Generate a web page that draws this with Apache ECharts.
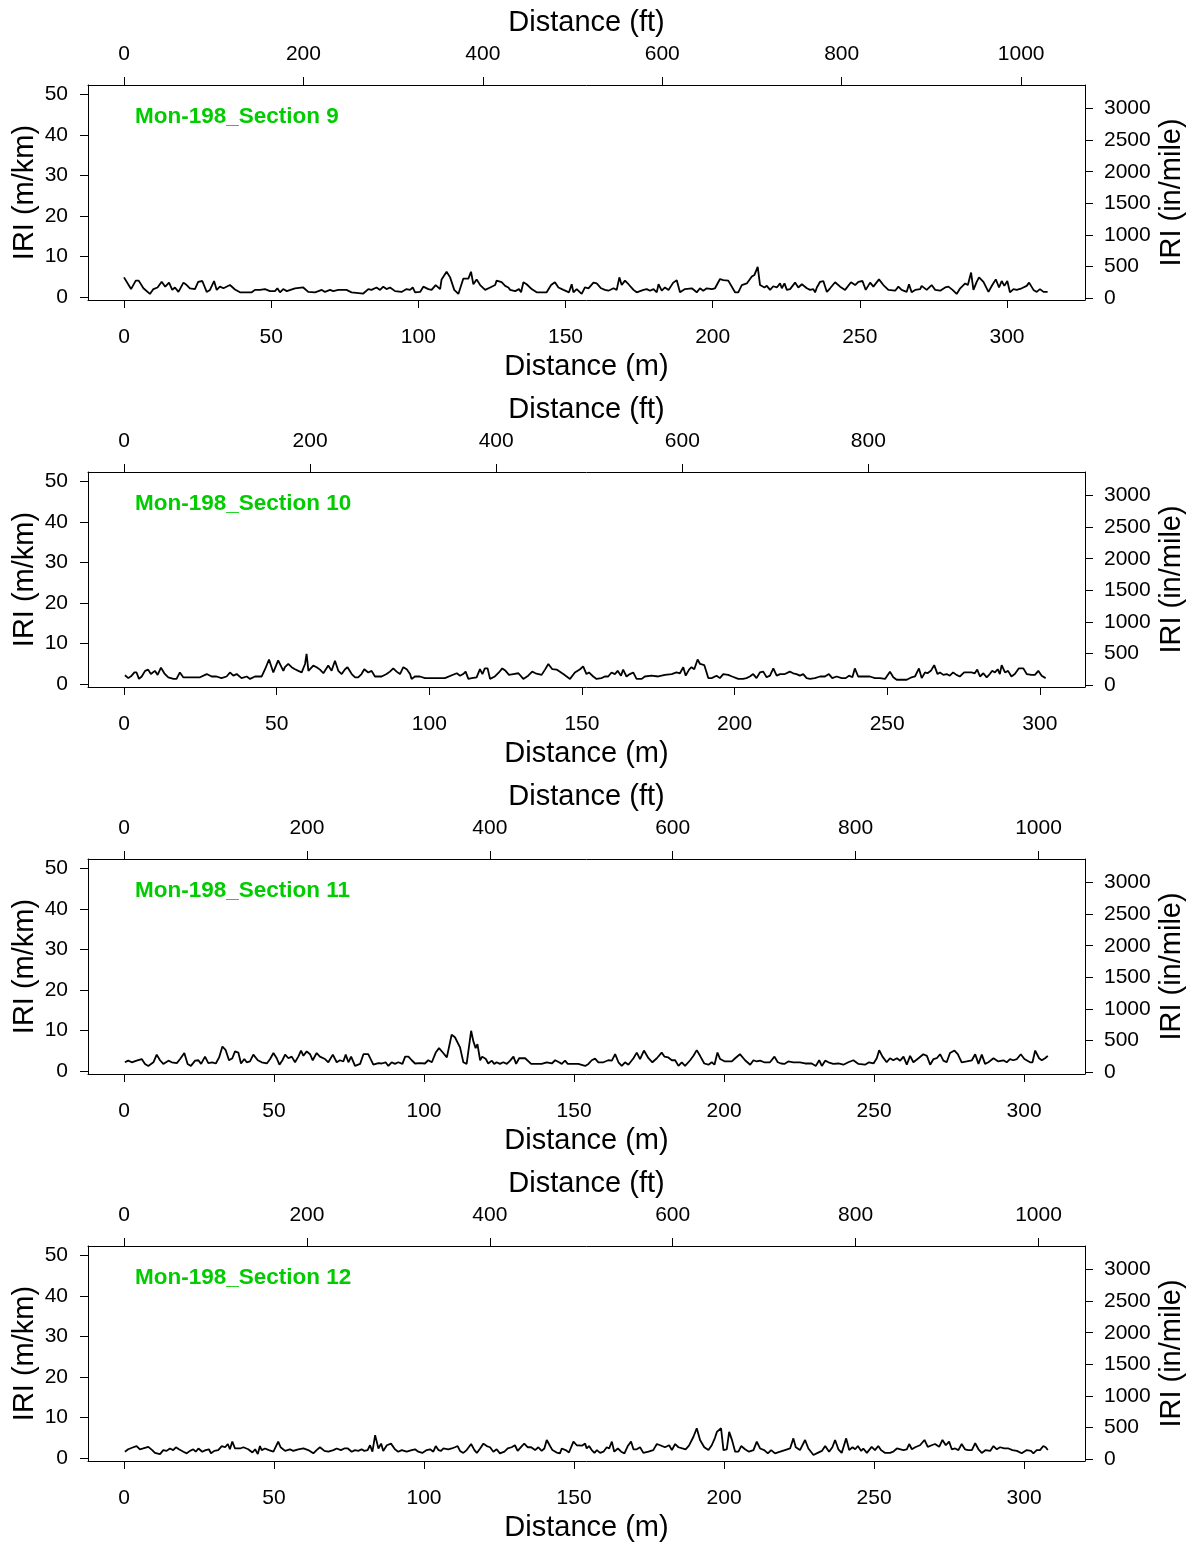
<!DOCTYPE html>
<html><head><meta charset="utf-8">
<script src="https://cdn.jsdelivr.net/npm/echarts@6/dist/echarts.min.js"></script>
<style>html,body{margin:0;padding:0;background:#fff}#c{width:1196px;height:1542px}</style>
</head><body><div id="c"></div>
<script>
// ---------- DATA ----------
const sectionNames = ['Mon-198_Section 9', 'Mon-198_Section 10', 'Mon-198_Section 11', 'Mon-198_Section 12'];

const s9Dist = [0,2.4,4,5,6.6,8.8,10,11.4,12.8,14,15.3,16.4,17.3,18.5,20.2,21.3,22.4,24.1,25.2,26.6,28.1,29.2,30.6,31.5,32.6,33.8,36,37.7,39.4,43.4,44.5,46.2,47.9,49.6,51.3,52.1,53,54.1,55.3,58.1,60.9,62.6,64.9,67.2,68.3,70,71.1,72.8,75.6,77.3,81.3,83,84.1,85.8,87,88.1,89.2,90.4,92.1,94.3,96,97.2,98.1,98.9,100.6,101.7,103.4,104.5,105.9,107.4,107.9,109.6,110.8,112.2,
113.6,115.3,117,117.9,118.7,119.8,121,122.7,124.4,126.1,126.6,128.3,129.5,130.6,131.2,132.9,134.2,134.9,135.7,136.8,138.5,140.2,143.6,145.1,146.4,147.6,149.3,151.2,152.1,152.7,153.8,155.5,156.6,157.8,159.5,160.6,162.1,163.4,164.6,166.3,167.4,168.3,169.1,170.2,171.4,173.1,174.2,176.5,177.6,178.7,179.9,181,181.6,182.7,183.8,185,186.6,187.8,188.9,190.6,192.9,194.6,195.7,196.8,198,199.7,200.8,202.5,203.6,205.3,207.6,208.7,209.9,211.6,213.3,214.2,215.3,216.1,217.6,218.4,219.5,220.6,221.8,222.9,223.5,224.4,
225.2,226.3,228,229.1,230.3,232,233.1,234.2,234.8,235.4,236.5,237.6,238.8,239.9,241.6,243.3,245,247,248.4,249.5,250.9,252,253.5,254.6,256.5,258,259.7,262,263.1,264.2,265.9,266.7,267.6,268.8,270.5,271,272.7,274.4,275.6,277.3,279,280.1,281.5,282.9,284.1,284.6,285.8,286.7,287.8,288.6,289.7,290.5,292,293.7,295,296.2,297.3,298.2,299.1,300.1,301,302.2,303.3,305,306.7,307.5,309,310.1,311.2,312.4,313.8];
const s9Iri = [4.8,1.9,4.0,4.0,2.1,0.7,1.9,2.3,3.7,2.5,3.5,1.7,2.3,1.2,3.5,2.9,2.1,1.9,3.7,3.9,1.2,1.7,3.9,1.7,2.5,2.1,2.9,1.8,1.1,1.1,1.7,1.7,1.9,1.4,1.4,2.1,1.1,1.9,1.4,2.1,2.3,1.2,1.1,1.7,1.2,1.7,1.4,1.7,1.7,1.1,0.8,1.9,1.7,2.3,1.7,2.5,1.9,2.3,1.4,1.2,1.9,1.7,2.3,1.1,1.2,2.5,1.9,1.7,2.9,1.9,4.3,6.2,4.8,1.7,
0.7,4.5,4.5,6.2,3.1,4.3,2.9,1.7,2.3,2.9,4.0,3.6,2.7,2.3,1.7,1.4,1.9,1.1,3.6,3.1,1.9,1.1,1.1,2.9,3.6,2.3,1.7,1.1,3.1,1.1,1.9,0.7,2.3,2.1,3.5,3.3,2.1,1.7,1.5,2.1,1.7,4.8,2.9,4.0,3.1,1.7,1.1,1.7,1.9,1.5,1.9,1.1,3.1,1.5,2.3,1.7,3.5,4.1,1.1,1.9,2.1,1.1,2.1,1.5,2.1,1.9,2.1,4.4,4.1,4.0,1.1,1.1,2.9,3.3,5.0,5.4,7.4,2.9,2.3,2.7,1.7,2.6,2.3,3.3,2.1,3.3,
1.7,1.9,3.5,2.3,3.1,2.1,1.7,1.9,1.1,2.3,3.7,3.9,1.2,2.1,3.6,2.5,1.7,3.6,2.9,3.7,3.9,1.7,3.5,2.5,4.3,2.9,1.7,1.5,2.5,1.7,1.2,3.1,1.1,1.7,1.9,2.7,1.7,2.9,1.7,1.5,2.3,2.5,1.7,0.7,2.1,1.7,3.3,2.9,6.0,1.7,3.7,4.8,3.7,1.2,2.9,4.3,2.3,3.9,2.7,3.9,1.1,1.9,1.7,2.1,2.7,3.5,1.7,1.2,1.9,1.2,1.2];

const s10Dist = [0.3,1.4,2.5,3.4,4.1,4.9,5.8,6.9,7.9,8.8,10.1,11,12.1,13.2,14.5,16.2,17.2,18.3,19.4,21.1,24.9,27.1,28.7,30.3,31.9,33.6,34.7,35.8,36.9,38.5,40.2,41.3,42.9,45.1,46.2,47.5,48.9,50.5,52.2,52.7,53.8,54.9,56,57.1,58.2,59.3,59.8,60.4,60.9,62,63.1,64.2,65.3,66.9,68,69.1,70.2,71.3,72.4,73.2,74.6,75.7,76.7,77.8,78.7,80,81.1,82.2,84.4,86,87.1,88.2,89.3,90.4,91.5,92.6,93.7,94.2,95.3,96.9,98.6,101.8,105.1,
109,110.1,111.1,111.9,112.8,113.9,115.5,116.6,117.4,118.2,119.1,119.9,121.5,122.8,123.9,125,126.1,127.5,129.2,130.8,132.4,133.7,134.8,136.8,137.9,139,140.3,141.7,143.9,146.1,147.7,149.4,150.4,151.5,152.3,153.7,154.8,156.4,157.5,158.6,159.7,160.8,161.7,162.8,163.5,164.6,165.7,166.8,167.9,169.6,170.6,172.8,175,177.2,179.4,181,182.1,183.2,184,185.1,185.9,186.8,187.9,188.7,189.2,190.1,191.4,192.5,194.1,195.2,196.3,197.9,199.2,201.2,202.8,203.9,205,206.1,207.2,208.3,209.4,210.5,211.6,212.7,213.8,214.9,216.5,
218.1,219.2,220.3,221.4,222.5,223.6,224.7,226.3,228,229.6,230.9,232,233.4,235.1,236.4,237.5,238.6,239.4,240.5,242.2,244.3,246,247.6,249.3,250.9,252,253.1,256.4,258,259.1,260.4,261.3,262.4,263.2,264.3,265.4,266.5,267.3,268.4,269.5,270.5,271.6,272.7,273.8,275.2,276.3,277.6,278.7,279.5,280.4,281.5,282.6,283.6,284.4,285.3,286.2,286.9,287.5,288.6,289.6,290.7,291.8,293.1,294.6,295.7,297.3,298.4,299.5,300.6,301.9];
const s10Iri = [2.1,1.4,2.0,2.8,2.8,1.2,1.8,3.2,3.5,2.4,3.2,2.2,4.0,2.6,1.6,1.2,1.2,2.8,1.6,1.6,1.6,2.4,1.8,1.8,1.4,1.8,2.8,2.0,2.4,1.4,1.8,1.2,1.8,1.8,3.6,6.0,2.8,5.8,3.2,4.1,4.9,4.1,3.6,3.2,2.8,4.9,7.4,3.2,3.2,4.5,4.1,3.5,2.6,4.5,3.2,5.7,3.2,2.4,3.6,4.1,2.4,1.6,1.6,2.4,3.6,2.8,3.2,1.8,1.8,2.4,3.0,3.8,3.0,2.4,4.1,3.6,2.4,1.2,1.8,1.8,1.4,1.4,1.4,
2.6,2.0,2.4,3.0,1.2,1.4,1.6,3.6,2.4,3.8,3.8,1.2,1.8,2.8,3.8,3.2,2.2,2.4,2.6,1.2,2.0,3.0,2.6,2.2,3.5,4.9,3.6,3.5,2.4,1.2,2.8,3.6,4.3,2.4,2.8,1.8,1.2,1.4,1.8,1.8,2.8,2.4,3.2,2.0,3.5,1.8,2.4,2.8,1.2,1.2,1.8,2.0,1.8,2.2,2.4,2.8,2.6,4.1,2.0,3.5,4.1,3.6,6.0,4.9,5.3,4.6,1.4,1.4,2.0,1.4,2.4,2.2,1.8,1.2,1.2,1.4,1.8,2.4,1.4,2.8,3.0,1.6,2.0,3.8,2.0,2.4,2.4,
3.0,2.6,2.4,2.0,2.4,1.4,1.2,1.4,1.8,1.8,2.4,1.4,1.8,1.4,1.4,2.0,1.6,3.8,1.8,1.8,1.8,1.4,1.4,1.2,3.0,1.6,1.0,1.0,1.6,1.8,3.8,1.4,2.8,2.6,3.2,4.6,2.4,2.8,2.2,2.4,2.0,2.8,2.2,1.8,2.8,2.8,2.8,2.6,3.5,1.8,2.6,1.6,2.4,3.2,2.8,3.6,2.4,4.6,2.8,3.2,1.8,2.4,3.8,3.8,2.4,2.2,2.2,3.2,2.0,1.4];

const s11Dist = [0.3,1.4,2.6,4.2,5.9,7,8.1,9.8,10.9,12,13.1,14.8,15.9,17.6,18.7,20.1,21.2,22.3,23.7,24.8,25.7,27,28.1,29.4,30.6,31.7,32.8,33.9,35,36.1,37,38.1,39,40.1,40.9,42,43.1,44.6,45.9,47.6,48.7,49.8,50.9,51.8,52.8,53.7,54.8,55.9,57,58.1,59,59.8,60.9,62,62.9,64.2,65.3,67,68.1,69.6,70.9,72,73.1,73.9,74.8,75.7,77,78.7,79.8,81.4,83.1,84.8,85.9,87.2,88.1,89.2,90.3,91.4,92.8,93.7,94.8,95.9,97,98.7,100.3,101.4,102.6,103.9,105,106.4,107.6,109.2,110.3,
110.9,112,113.1,114.2,114.8,115.7,116.4,117.2,117.8,118.7,119.4,120.6,121.4,122.6,123.4,124.2,125.3,126.4,127.6,128.7,129.8,130.7,131.7,133.7,135.7,139.2,140.9,142.6,143.7,145,145.9,147,147.9,151.4,153.7,154.8,155.9,157,158.1,159.8,161.4,162.6,163.7,164.8,165.9,167,168.1,169.8,170.9,172,173.3,174.8,176.1,177.6,179.2,180.1,181.4,182.6,183.7,184.8,185.9,187,188.7,189.8,190.9,192,193.4,194.8,195.9,196.8,197.8,198.7,200.3,202.6,203.7,205.3,207,208.7,209.8,210.9,212,213.4,215.3,216.8,217.9,219,220.1,
221.4,223.1,225.3,227,229.2,230.6,231.7,232.6,233.7,234.8,236.4,238.1,239.8,241.4,243.1,244.8,247,248.3,249.8,250.9,251.7,252.8,254.2,255.3,256.4,257.6,258.7,259.8,260.9,262,263.1,264.8,266.4,267.6,268.7,269.8,270.9,272,273.1,274.2,275.3,276.8,277.9,279.2,280.9,282.6,283.7,284.8,285.9,287,288.1,289.8,291.4,293.1,294.2,295.3,296.4,297.6,298.9,300.1,302,302.8,303.7,305,305.9,307,307.9];
const s11Iri = [2.1,2.5,2.1,2.5,2.9,1.7,1.2,2.1,4.0,2.6,1.7,2.5,2.1,1.9,2.9,4.4,1.7,1.2,2.5,2.6,1.7,3.5,1.9,2.1,1.8,3.3,6.0,5.1,2.6,3.1,4.8,4.5,1.8,2.9,2.1,2.3,4.0,2.6,2.1,1.8,2.9,4.4,3.1,1.5,2.6,4.0,3.1,3.5,2.1,3.5,5.0,3.7,4.8,4.1,2.6,4.4,3.5,2.9,2.1,4.0,2.1,2.6,2.3,4.0,2.1,3.5,1.2,1.7,4.1,4.1,1.5,1.9,1.8,2.1,1.2,2.1,1.7,2.1,1.7,3.5,3.5,2.6,1.8,1.9,1.8,2.6,2.1,4.5,5.6,4.4,3.3,8.9,8.3,
7.9,5.8,2.1,1.7,2.1,9.9,7.4,5.6,6.6,2.6,3.5,2.9,1.8,2.5,1.7,2.1,1.7,2.1,1.7,2.5,3.5,1.7,3.1,3.1,1.7,1.7,2.1,1.8,2.6,2.1,1.7,2.5,1.7,1.7,1.2,1.7,2.6,3.0,2.1,2.1,2.6,2.5,4.1,2.1,1.2,2.1,1.5,3.1,4.5,2.9,5.0,3.1,2.1,3.1,4.5,3.5,3.3,2.6,2.6,1.2,2.1,1.2,2.6,3.7,5.1,3.7,1.8,1.5,2.1,1.5,4.5,2.9,2.3,2.3,3.1,4.1,2.6,1.5,2.6,2.3,2.5,2.1,2.1,3.5,2.1,1.8,1.7,
2.3,2.1,2.1,1.8,1.8,1.2,2.6,1.2,2.5,2.1,1.7,1.8,1.5,2.1,2.6,1.7,1.5,2.1,1.8,3.1,5.1,3.5,2.1,3.1,2.6,3.1,2.5,3.5,1.5,3.7,2.1,3.1,4.1,3.7,1.5,2.9,3.1,4.1,2.5,2.1,4.4,5.0,4.1,2.1,2.3,2.6,4.1,1.7,4.0,1.7,2.1,3.1,2.3,2.6,2.1,2.9,2.6,2.9,4.1,2.9,2.1,2.1,5.0,3.1,2.6,3.1,3.7];

const s12Dist = [0.3,1.4,3.1,4.2,5.3,6.4,8.1,9.4,10.3,12,13.1,14.2,15.3,16.4,17.3,18.3,19.8,20.9,22,23.1,23.9,24.8,26.1,27.2,28.3,29,30.1,31.4,32.6,33.7,34.6,35.3,36.1,37,38.7,39.8,41.4,42.8,43.7,44.6,45.3,45.9,47,48.3,49.8,51.4,52.2,53.7,55.3,56.4,58.1,59.8,61.4,63.1,64.2,65.3,66.8,68.1,69.8,70.9,72.3,73.4,74.6,75.9,77,78.1,79.2,80.1,81.2,82,82.8,83.7,84.8,85.7,86.4,87.6,89,90.3,91.4,92.6,94.2,95.9,97,98.1,99.4,100.9,102,103.1,103.9,104.8,105.7,106.4,108.1,109.2,110.3,
111.2,112,113.1,114.2,115.7,116.8,117.6,118.7,119.8,120.9,122,123.1,124.2,125.3,126.8,127.9,129.2,130.3,131.2,132.6,133.4,134.6,135.7,137,138.1,139.2,140.1,140.9,142,142.8,144.2,145.3,145.9,147.2,148.3,149.8,150.9,152.6,153.7,154.2,155,155.9,156.8,157.6,158.7,159.8,160.9,161.7,162.6,163.4,164.6,165.7,166.8,167.9,169,169.8,170.9,172,173.1,174.8,176.4,177.6,178.7,180.3,181.7,182.6,183.7,184.8,186.1,187.2,188.3,189.8,190.9,192,193.4,194.8,195.9,197,197.6,198.1,199,199.8,200.9,201.7,202.6,203.7,204.8,205.7,207,208.3,209.8,210.9,212,213.4,214.6,215.7,217,218.7,220.3,
222,223.1,223.9,225.3,227,228.1,229.8,231.2,232.6,233.7,235,236.1,237,238.1,239.2,240.7,241.7,242.8,243.7,244.6,245.7,246.4,247.6,249.2,250.3,251.4,252.3,253.7,255.3,256.4,257.6,259.8,260.9,261.7,262.6,263.7,265.3,266.8,267.9,269.2,270.3,271.7,272.8,273.9,275,275.9,277,278.1,279.2,280.3,281.4,282.6,283.7,284.8,285.9,287.2,288.7,289.8,290.9,292,293.4,294.8,296.1,297.6,299.2,300.9,302.3,303.1,304.2,305.3,306.4,307.2,307.9];
const s12Iri = [1.5,2.1,2.6,2.9,2.1,2.3,2.7,1.9,1.2,0.9,1.9,1.7,2.3,1.9,2.6,2.1,1.5,1.1,1.7,2.1,1.5,2.3,1.5,1.9,2.1,1.1,1.7,1.9,2.9,2.6,3.4,2.1,4.0,2.3,2.3,2.6,2.1,1.3,2.1,0.9,2.9,1.9,2.3,1.9,1.5,4.0,2.6,1.7,2.1,1.7,2.1,2.3,1.9,1.1,1.9,2.6,1.7,1.5,1.9,2.3,1.9,2.3,2.3,1.5,1.9,1.7,2.1,1.7,1.9,3.1,1.5,5.6,2.3,3.5,1.7,3.1,3.5,2.1,1.5,1.9,1.5,1.9,2.1,1.5,1.2,1.9,2.1,1.5,2.9,1.9,1.7,2.3,2.1,2.3,2.6,
2.9,1.7,1.2,1.9,3.4,1.9,1.2,2.3,3.5,2.9,2.6,1.5,2.1,1.1,1.5,2.3,2.6,3.1,1.7,2.9,3.5,2.6,2.6,1.9,2.6,1.7,2.3,4.4,2.9,1.9,1.3,1.1,2.3,1.9,1.3,4.0,3.1,3.0,3.5,2.3,2.9,1.9,1.2,1.9,1.2,1.5,2.6,2.3,4.0,1.5,2.3,1.5,1.1,2.9,4.0,2.1,2.1,2.6,1.2,1.5,1.9,3.4,3.1,2.6,3.1,1.9,3.4,2.6,2.3,2.1,3.0,5.2,7.3,4.4,2.6,1.9,3.1,5.0,6.4,6.1,7.3,1.9,2.1,6.4,4.5,1.5,1.5,2.9,2.1,1.5,1.9,4.0,2.3,1.9,1.1,1.9,1.1,1.5,1.9,
2.3,4.8,2.6,1.9,4.4,2.3,0.7,1.2,1.7,2.9,1.5,2.6,4.4,2.1,1.2,4.8,1.9,2.6,2.1,2.9,1.7,2.3,1.2,2.7,1.9,2.9,1.9,1.2,1.2,1.5,2.3,1.9,2.1,3.4,2.1,2.6,3.1,4.4,2.7,3.1,3.4,2.7,4.4,3.1,4.0,2.1,2.3,1.9,3.4,2.1,1.9,1.9,3.6,2.1,1.2,1.9,1.7,2.9,2.1,2.6,2.3,2.3,1.9,1.7,1.1,1.9,1.7,1.1,1.9,1.9,2.9,2.6,1.9];

const mTicks = [0, 50, 100, 150, 200, 250, 300];
const ftTicksFull = [0, 200, 400, 600, 800, 1000];
const ftTicksShort = [0, 200, 400, 600, 800];
const iriTicks = [0, 10, 20, 30, 40, 50];
const inMileTicks = [0, 500, 1000, 1500, 2000, 2500, 3000];

// ---------- LAYOUT ----------
const M_TO_FT = 3.28084;
const FONT = "'Liberation Sans', Arial, Helvetica, sans-serif";
const panels = [
  { name: sectionNames[0], dist: s9Dist,  iri: s9Iri,  top: 85,   xMin: -12.23, xMax: 326.5, ft: ftTicksFull },
  { name: sectionNames[1], dist: s10Dist, iri: s10Iri, top: 472,  xMin: -11.8,  xMax: 314.8, ft: ftTicksShort },
  { name: sectionNames[2], dist: s11Dist, iri: s11Iri, top: 859,  xMin: -12.0,  xMax: 320.3, ft: ftTicksFull },
  { name: sectionNames[3], dist: s12Dist, iri: s12Iri, top: 1246, xMin: -12.0,  xMax: 320.3, ft: ftTicksFull }
];
const Y_MIN = -0.8, Y_MAX = 52.4;          // m/km (left)
const R_MIN = -28.5, R_MAX = 3372;         // in/mile (right)

function baseAxis(ticks, margin) {
  return {
    axisLine: { show: true, onZero: false, lineStyle: { color: '#000', width: 1 } },
    axisTick: { show: true, inside: false, length: 8, customValues: ticks, lineStyle: { color: '#000', width: 1 } },
    axisLabel: { show: true, customValues: ticks, margin: margin, color: '#000', fontSize: 21, fontFamily: FONT,
                 formatter: v => String(Math.round(v)) },
    splitLine: { show: false },
    nameLocation: 'middle',
    nameTextStyle: { color: '#000', fontSize: 29, fontFamily: FONT }
  };
}

const option = { animation: false, backgroundColor: '#fff', grid: [], xAxis: [], yAxis: [], series: [], title: [] };

panels.forEach((p, i) => {
  option.grid.push({ left: 88, top: p.top, width: 997, height: 215, show: false,
                     containLabel: false, outerBoundsMode: 'none' });
  option.xAxis.push(Object.assign(baseAxis(mTicks, 27), {
    type: 'value', gridIndex: i, position: 'bottom', min: p.xMin, max: p.xMax,
    name: 'Distance (m)', nameGap: 52
  }));
  option.xAxis.push(Object.assign(baseAxis(p.ft, 20), {
    type: 'value', gridIndex: i, position: 'top', min: p.xMin * M_TO_FT, max: p.xMax * M_TO_FT,
    name: 'Distance (ft)', nameGap: 48
  }));
  option.yAxis.push(Object.assign(baseAxis(iriTicks, 20), {
    type: 'value', gridIndex: i, position: 'left', min: Y_MIN, max: Y_MAX,
    name: 'IRI (m/km)', nameGap: 49, nameRotate: 90, nameMoveOverlap: false
  }));
  option.yAxis.push(Object.assign(baseAxis(inMileTicks, 19), {
    type: 'value', gridIndex: i, position: 'right', min: R_MIN, max: R_MAX,
    name: 'IRI (in/mile)', nameGap: 72, nameRotate: 90, nameMoveOverlap: false
  }));
  option.series.push({
    type: 'line', xAxisIndex: 2 * i, yAxisIndex: 2 * i,
    data: p.dist.map((d, k) => [d, p.iri[k]]),
    showSymbol: false, symbol: 'none', silent: true,
    lineStyle: { color: '#000', width: 1.8 }
  });
  option.title.push({
    text: p.name, left: 135, top: p.top + 20, padding: 0,
    textStyle: { color: '#00cc00', fontSize: 22.5, fontWeight: 'bold', fontFamily: FONT }
  });
});

const chart = echarts.init(document.getElementById('c'), null, { renderer: 'canvas', width: 1196, height: 1542 });
chart.setOption(option);
</script>
</body></html>
